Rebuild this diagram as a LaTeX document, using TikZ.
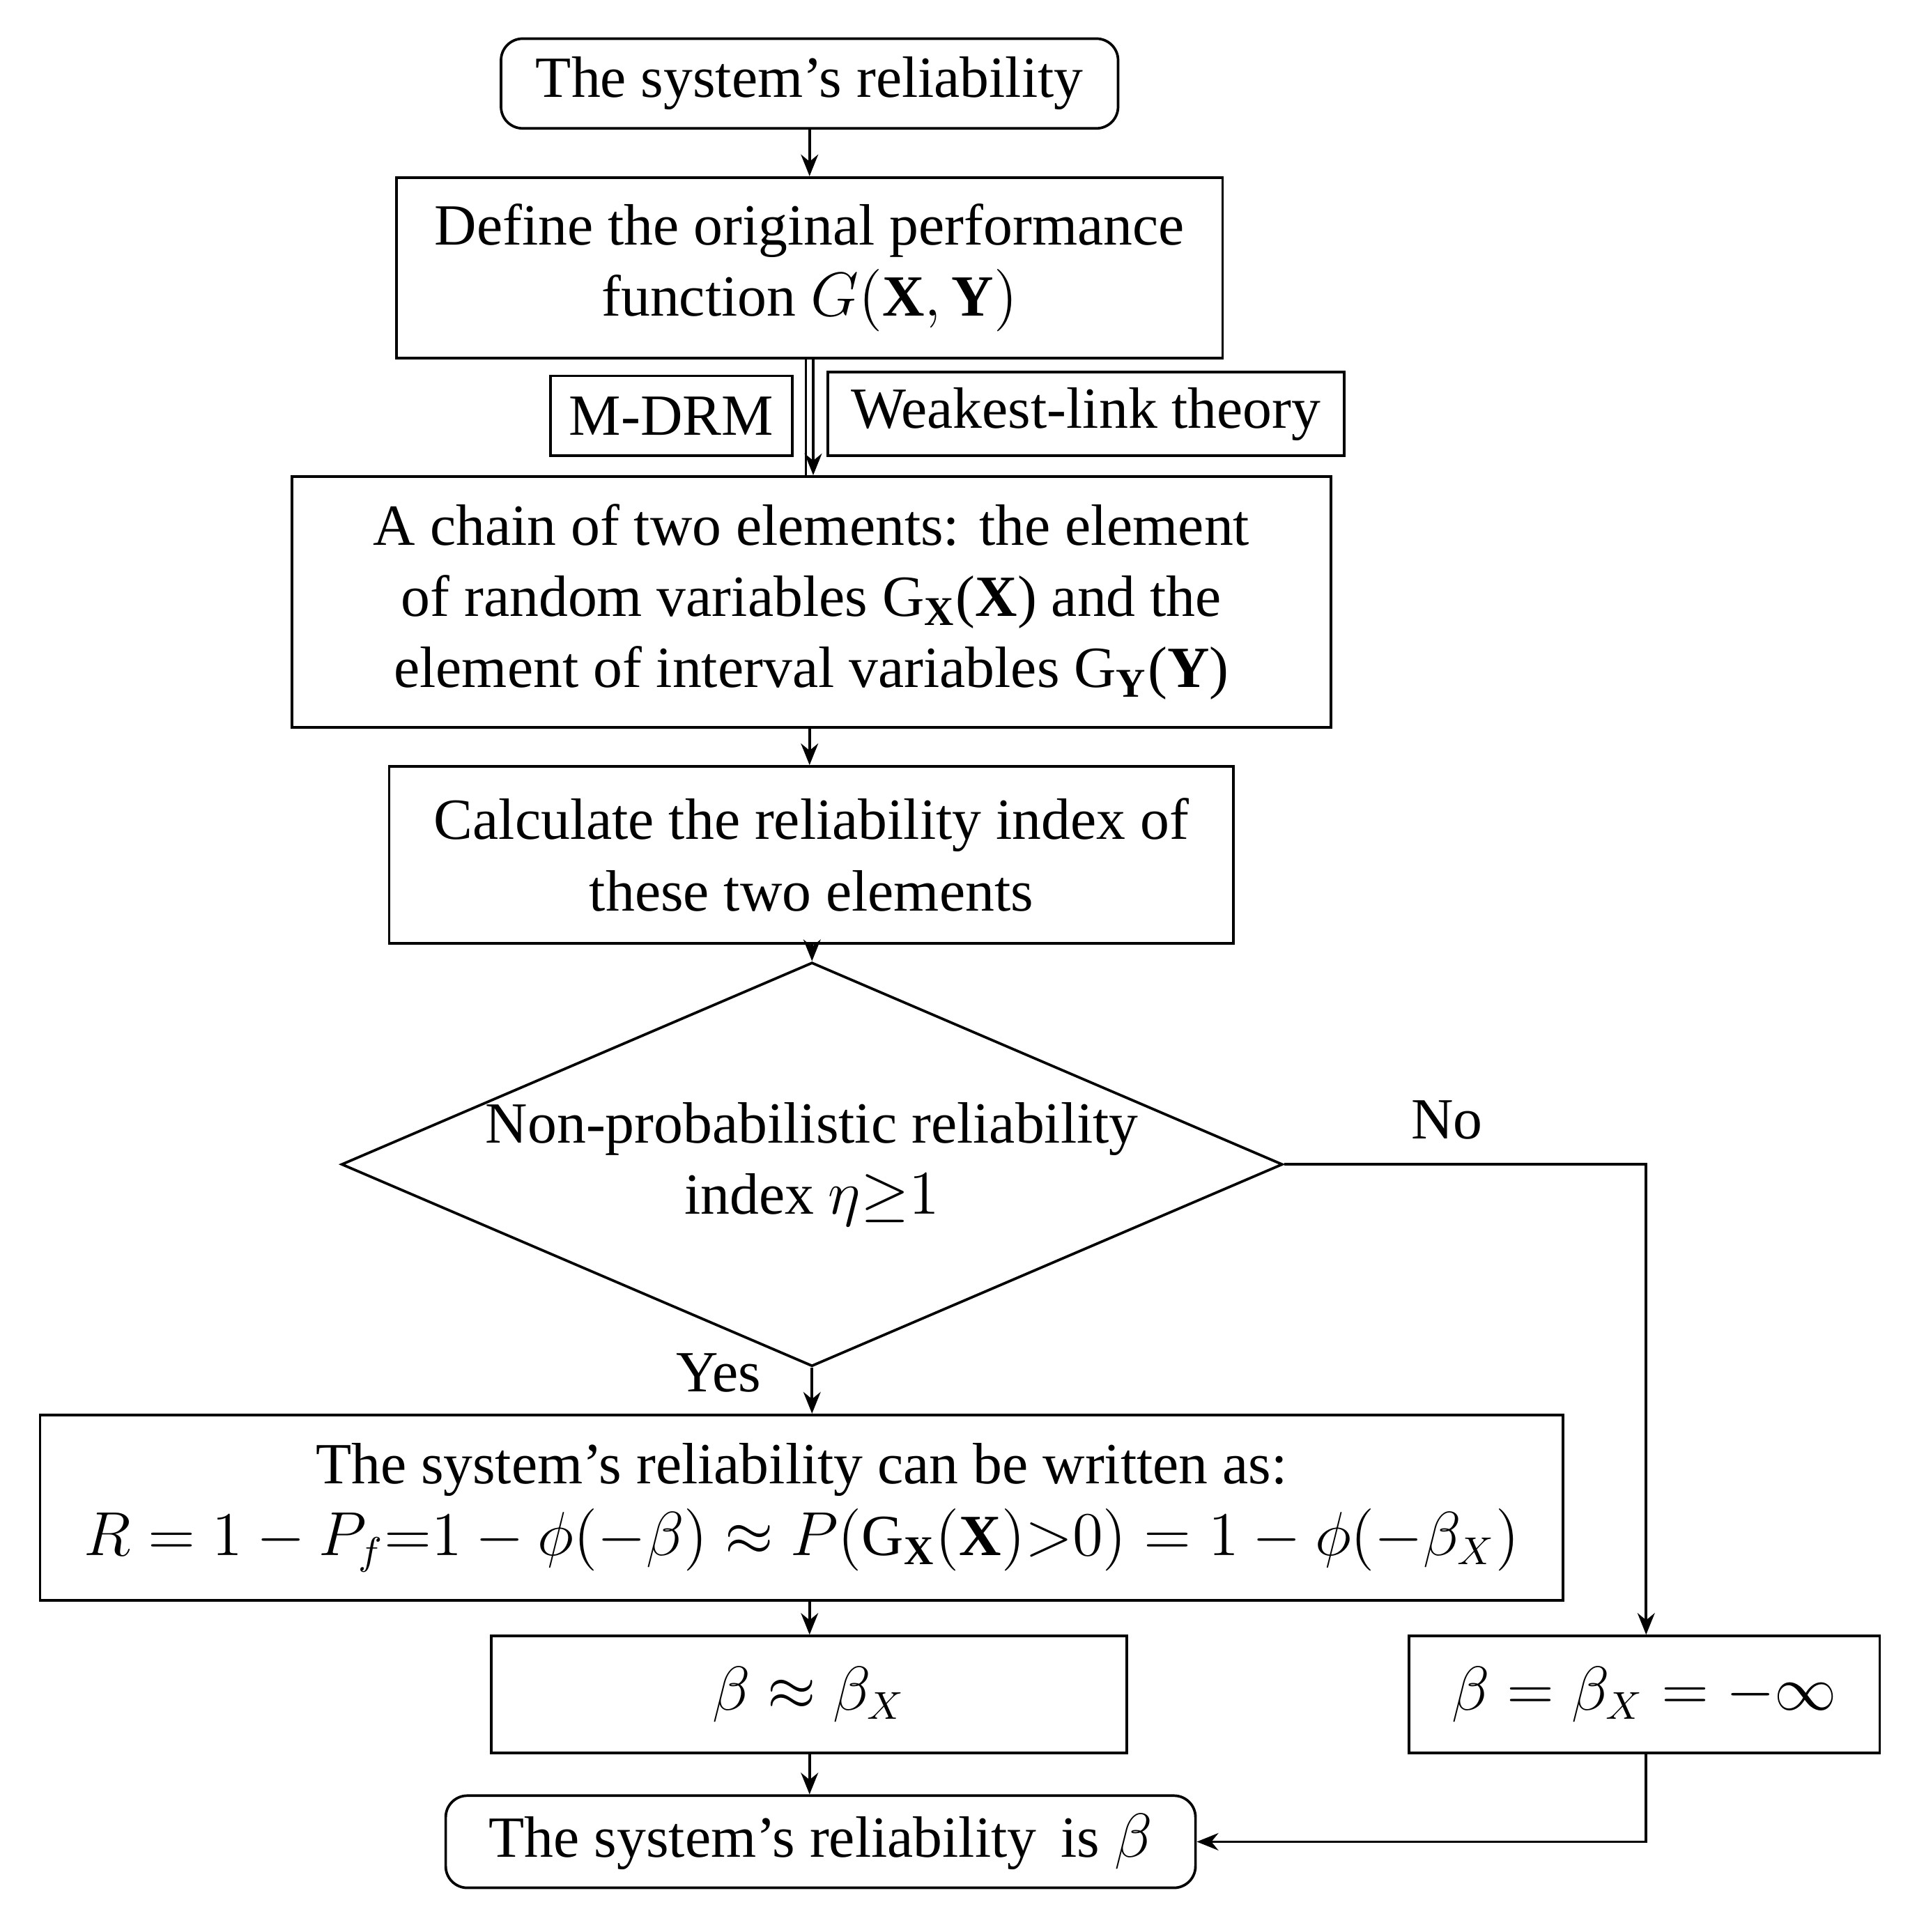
\documentclass[tikz,border=0pt]{standalone}
\usepackage{fontspec}
\setmainfont{Liberation Serif}
\usetikzlibrary{shapes.geometric,arrows.meta}
\begin{document}
\begin{tikzpicture}[x=0.01cm,y=-0.01cm,
  every node/.style={font=\fontsize{13.5}{16.5}\selectfont,align=center,inner sep=0pt},
  box/.style={draw,line width=0.6pt},
  rbox/.style={box,rounded corners=5pt},
  arr/.style={-{Stealth[length=5pt,width=4pt]},line width=0.6pt}]
\useasboundingbox (0,0) rectangle (1560,1573);
\node[rbox,minimum width=5.02cm,minimum height=0.73cm] (a) at (659,68) {The system’s reliability};
\node[box,minimum width=6.72cm,minimum height=1.47cm] (b) at (659,218) {Define the original performance\\function $G(\mathbf{X},\mathbf{Y})$};
\node[box,minimum width=1.97cm,minimum height=0.65cm] (m) at (546.5,338.5) {M-DRM};
\node[box,minimum width=4.2cm,minimum height=0.68cm] (w) at (884,337) {Weakest-link theory};
\node[box,minimum width=8.45cm,minimum height=2.04cm] (c) at (660.5,490) {A chain of two elements: the element\\of random variables G$_{\mathbf{X}}$($\mathbf{X}$) and the\\element of interval variables G$_{\mathbf{Y}}$($\mathbf{Y}$)};
\node[box,minimum width=6.87cm,minimum height=1.44cm] (d) at (660.5,696) {Calculate the reliability index of\\these two elements};
\node[box,diamond,aspect=2.33,minimum width=6.92cm,minimum height=2.97cm] (e) at (661,948) {Non-probabilistic reliability\\index $\eta{\geq}1$};
\node[box,minimum width=12.39cm,minimum height=1.51cm] (f) at (652.5,1227.5) {The system’s reliability can be written as:\\$R=1-P_f{=}1-\phi(-\beta)\approx P(\mathrm{G}_{\mathbf{X}}(\mathbf{X}){>}0)=1-\phi(-\beta_X)$};
\node[box,minimum width=5.17cm,minimum height=0.95cm] (g) at (658.5,1379.5) {$\beta\approx\beta_X$};
\node[box,minimum width=3.83cm,minimum height=0.95cm] (h) at (1338.5,1379.5) {$\beta=\beta_X=-\infty$};
\node[rbox,minimum width=6.1cm,minimum height=0.75cm] (i) at (668,1499.5) {The system’s reliability\, is $\beta$};
\node (no) at (1178,912) {No};
\node (yes) at (585,1118) {Yes};
\draw[arr] (a.south -| 659,0) -- (b.north -| 659,0);
\draw[line width=0.6pt] (b.south -| 656,0) -- (c.north -| 656,0);
\draw[arr] (b.south -| 662,0) -- (c.north -| 662,0);
\draw[arr] (c.south -| 659,0) -- (d.north -| 659,0);
\draw[arr] (d.south -| 661,0) -- (e.north);
\draw[arr] (e.south) -- (f.north -| e.south);
\draw[arr] (f.south -| 659,0) -- (g.north -| 659,0);
\draw[arr] (g.south -| 659,0) -- (i.north -| 659,0);
\draw[arr] (e.east) -| (h.north -| 1340,0);
\draw[arr] (h.south -| 1340,0) |- (i.east);
\end{tikzpicture}
\end{document}
